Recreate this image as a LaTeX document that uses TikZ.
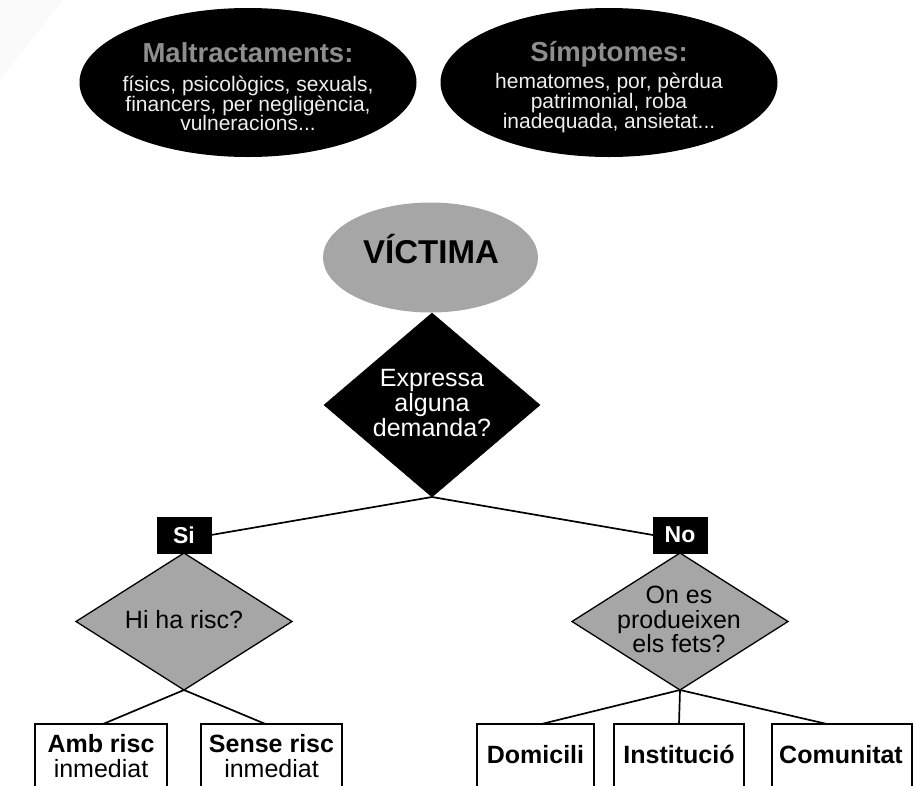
\documentclass[tikz,border=0pt]{standalone}
\usepackage{fontspec}
\setmainfont{Liberation Sans}
\usetikzlibrary{shapes.geometric,calc}

\definecolor{softgray}{HTML}{A6A6A6}
\definecolor{titlegray}{HTML}{8E8E8E}
\definecolor{paletext}{HTML}{EEEEEE}

\tikzset{
  blackoval/.style={ellipse, fill=black, draw=none, inner sep=0pt, outer sep=0pt,
    minimum width=337pt, minimum height=149pt},
  ovaltitle/.style={anchor=base, inner sep=0pt, text=titlegray,
    font=\fontsize{27.5}{30}\selectfont\bfseries},
  ovalline/.style={anchor=base, inner sep=0pt, text=paletext,
    font=\fontsize{21}{22}\selectfont},
  victimoval/.style={ellipse, fill=softgray, draw=none, inner sep=0pt, outer sep=0pt,
    minimum width=215pt, minimum height=110pt},
  bigq/.style={diamond, fill=black, draw=black, inner sep=0pt, outer sep=0pt,
    minimum width=216pt, minimum height=184pt},
  smallq/.style={diamond, fill=softgray, draw=black, line width=1.3pt, inner sep=0pt,
    outer sep=0pt, minimum width=216pt, minimum height=137pt},
  qtext/.style={anchor=base, inner sep=0pt, font=\fontsize{25}{26}\selectfont},
  tag/.style={rectangle, fill=black, draw=black, inner sep=0pt, outer sep=0pt,
    minimum width=54pt, minimum height=36pt, text=white,
    font=\fontsize{23}{24}\selectfont\bfseries},
  leaf/.style={rectangle, draw=black, fill=white, line width=1.6pt, inner sep=0pt,
    outer sep=0pt, anchor=north, minimum height=90pt},
  leafbold/.style={anchor=base, inner sep=0pt, font=\fontsize{25}{26}\selectfont\bfseries},
  leafplain/.style={anchor=base, inner sep=0pt, font=\fontsize{25}{26}\selectfont},
  wire/.style={draw=black, line width=1.7pt},
}

\begin{document}
\begin{tikzpicture}[x=1pt, y=-1pt]
\useasboundingbox (0,0) rectangle (913,785);
\clip (0,0) rectangle (913,785);

% faint shaded corner of the sheet
\fill[gray!4] (0,0) -- (63,0) -- (0,80) -- cycle;

% top ovals: kinds of abuse and symptoms
\node[blackoval] (abuse) at (248,82.5) {};
\node[ovaltitle] (abuseT) at (248,62) {Maltractaments:};
\node[ovalline] (abuse1) at (248,91) {físics, psicològics, sexuals,};
\node[ovalline] (abuse2) at (248,111) {financers, per negligència,};
\node[ovalline] (abuse3) at (248,130) {vulneracions...};

\node[blackoval] (sympt) at (609,82.5) {};
\node[ovaltitle] (symptT) at (609,61) {Símptomes:};
\node[ovalline] (sympt1) at (609,88) {hematomes, por, pèrdua};
\node[ovalline] (sympt2) at (609,108) {patrimonial, roba};
\node[ovalline] (sympt3) at (609,128) {inadequada, ansietat...};

% victim
\node[victimoval] (victim) at (430.5,257.5) {};
\node[anchor=base, inner sep=0pt, font=\fontsize{33}{34}\selectfont\bfseries]
  (victimT) at (431,263) {VÍCTIMA};

% first question
\node[bigq] (ask) at (432,405) {};
\node[qtext, text=white] (ask1) at (432,386) {Expressa};
\node[qtext, text=white] (ask2) at (432,411) {alguna};
\node[qtext, text=white] (ask3) at (432,436) {demanda?};

% answer tags
\node[tag] (yes) at (184,535) {Si};
\node[tag] (no) at (680,535) {No};
\draw[wire] (ask.south) -- (yes.east);
\draw[wire] (ask.south) -- (no.west);

% yes branch
\node[smallq, anchor=north] (risk) at (yes.south) {};
\node[qtext] (riskT) at (184,628) {Hi ha risc?};

\node[leaf, minimum width=132pt] (withrisk) at (101,724) {};
\node[leaf, minimum width=141pt] (norisk) at (271.5,724) {};
\node[leafbold] (withrisk1) at (101,752) {Amb risc};
\node[leafplain] (withrisk2) at (101,777) {inmediat};
\node[leafbold] (norisk1) at (271.5,752) {Sense risc};
\node[leafplain] (norisk2) at (271.5,777) {inmediat};
\draw[wire] (risk.south) -- ([xshift=2pt]withrisk.north);
\draw[wire] (risk.south) -- ([xshift=-6pt]norisk.north);

% no branch
\node[smallq, anchor=north] (where) at (no.south) {};
\node[qtext] (where1) at (679,603) {On es};
\node[qtext] (where2) at (679,628) {produeixen};
\node[qtext] (where3) at (679,652) {els fets?};

\node[leaf, minimum width=117pt] (home) at (535.5,724) {};
\node[leaf, minimum width=130pt] (inst) at (679,724) {};
\node[leaf, minimum width=140pt] (comm) at (842,724) {};
\node[leafbold] (homeT) at (535.5,763) {Domicili};
\node[leafbold] (instT) at (679,763) {Institució};
\node[leafbold] (commT) at (841,763) {Comunitat};
\draw[wire] (where.south) -- ([xshift=6pt]home.north);
\draw[wire] (where.south) -- (inst.north);
\draw[wire] (where.south) -- ([xshift=-15pt]comm.north);
\end{tikzpicture}
\end{document}
